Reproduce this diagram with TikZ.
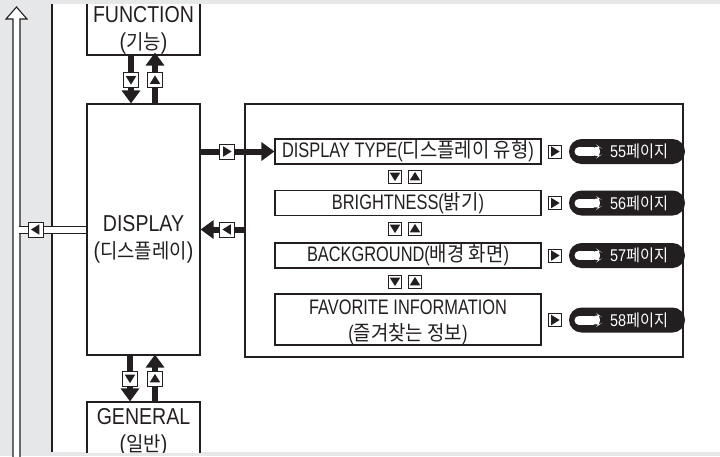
\documentclass[tikz,border=0pt]{standalone}
\usepackage{fontspec}
\setmainfont{Liberation Sans}[FakeStretch=0.85]
\newfontfamily\rfont{Liberation Sans}[FakeStretch=0.78]
\newfontfamily\krfont{Noto Sans CJK KR}[FakeStretch=0.92]
\usetikzlibrary{arrows.meta}
\definecolor{ink}{HTML}{231F20}
\definecolor{pagebg}{HTML}{E6E7E8}
\newcommand\hg[1]{{\krfont\fontsize{20.5}{24}\selectfont #1}}
\newcommand\hpg[1]{{\krfont\fontsize{16.5}{18}\selectfont #1}}
\begin{document}
\begin{tikzpicture}[x=1pt,y=-1pt,
  ln/.style={draw=ink,line width=1.1pt},
  box/.style={draw=ink,line width=1.1pt,fill=white,inner sep=0pt,text=ink},
  rbox/.style={box,minimum width=266pt,align=center,font=\rfont\fontsize{21}{26}\selectfont},
  rtxt/.style={text=ink,align=center,inner sep=0pt,font=\rfont\fontsize{21}{25.5}\selectfont},
  lbig/.style={text=ink,align=center,font=\fontsize{23}{27}\selectfont,inner sep=0pt},
  fat/.style={draw=ink,line width=6pt,-{Triangle[length=13pt,width=18pt]}},
  mk/.style={draw=ink,fill=white,line width=1pt,minimum size=15pt,inner sep=0pt},
  mks/.style={mk,minimum size=13pt},
  tdn/.style={path picture={\fill[ink,shift={(path picture bounding box.center)}] (-5.2,-3.8) -- (5.2,-3.8) -- (0,4.6) -- cycle;}},
  tup/.style={path picture={\fill[ink,shift={(path picture bounding box.center)}] (-5.2,3.8) -- (5.2,3.8) -- (0,-4.6) -- cycle;}},
  trt/.style={path picture={\fill[ink,shift={(path picture bounding box.center)}] (-3.8,-5.2) -- (-3.8,5.2) -- (4.6,0) -- cycle;}},
  tlt/.style={path picture={\fill[ink,shift={(path picture bounding box.center)}] (3.8,-5.2) -- (3.8,5.2) -- (-4.6,0) -- cycle;}},
  pill/.style={fill=ink,rounded corners=12.5pt,minimum width=116pt,minimum height=25pt,inner sep=0pt,
    path picture={\begin{scope}[shift={(path picture bounding box.center)}]
      \draw[white,line width=9pt,line cap=round] (-48,0) -- (-34,0);
      \fill[white] (-35,-10) -- (-21,0) -- (-35,10) -- cycle;
    \end{scope}}},
  ptxt/.style={text=white,font=\fontsize{17}{18}\selectfont,inner sep=0pt}
]
\useasboundingbox (0,0) rectangle (720,456);
\fill[pagebg] (0,0) rectangle (720,456);
\fill[white] (52,4) rectangle (720,452);
\begin{scope}
\clip (52,4) rectangle (720,452);
% left column boxes
\node[box,minimum width=113pt,minimum height=62pt] (function) at (143.5,24) {};
\node[lbig] (functxt) at (143.5,30.5) {FUNCTION\\(\hg{기능})};
\node[box,minimum width=113pt,minimum height=251pt] (display) at (143.5,229.5) {};
\node[lbig] (disptxt) at (143.5,239) {DISPLAY\\(\hg{디스플레이})};
\node[box,minimum width=113pt,minimum height=70pt] (general) at (143.5,437) {};
\node[lbig] (gentxt) at (143.5,432) {GENERAL\\(\hg{일반})};
% right panel
\node[draw=ink,line width=1.1pt,minimum width=438pt,minimum height=253pt,inner sep=0pt] (panel) at (464,230.5) {};
\node[rbox,minimum height=25pt] (dtype) at (408,151.5) {DISPLAY TYPE(\hg{디스플레이 유형})};
\node[rbox,minimum height=25pt] (bright) at (408,203) {BRIGHTNESS(\hg{밝기})};
\node[rbox,minimum height=25pt] (bground) at (408,255.5) {BACKGROUND(\hg{배경 화면})};
\node[rbox,minimum height=51pt] (fav) at (408,319.5) {};
\node[rtxt] (favtxt) at (408,322.5) {FAVORITE INFORMATION\\(\hg{즐겨찾는 정보})};
% arrow positions
\coordinate (fd) at (131,80);
\coordinate (fu) at (155,80);
\coordinate (gd) at (130,378.5);
\coordinate (gu) at (155,378.5);
\coordinate (rt) at (227,151.5);
\coordinate (bk) at (227,229.5);
% thick arrows
\draw[fat] (function.south -| fd) -- (display.north -| fd);
\draw[fat] (display.north -| fu) -- ([yshift=3pt]function.south -| fu);
\draw[fat] (display.south -| gd) -- (general.north -| gd);
\draw[fat] (general.north -| gu) -- ([yshift=1pt]display.south -| gu);
\draw[fat] (display.east |- rt) -- (dtype.west);
\draw[fat] (panel.west |- bk) -- (display.east |- bk);
% markers
\node[mk,tdn] (m1) at (fd) {};
\node[mk,tup] (m2) at (fu) {};
\node[mk,tdn] (m3) at (gd) {};
\node[mk,tup] (m4) at (gu) {};
\node[mk,trt] (m5) at (rt) {};
\node[mk,tlt] (m6) at (bk) {};
\node[mks,tdn] (d1) at (395,176.5) {};
\node[mks,tup] (u1) at (415,176.5) {};
\node[mks,tdn] (d2) at (395,228.5) {};
\node[mks,tup] (u2) at (415,228.5) {};
\node[mks,tdn] (d3) at (395,281.5) {};
\node[mks,tup] (u3) at (415,281.5) {};
% page references
\node[mks,trt] (r1) at (555,151.5) {};
\node[mks,trt] (r2) at (555,203) {};
\node[mks,trt] (r3) at (555,255.5) {};
\node[mks,trt] (r4) at (555,320) {};
\node[pill] (p55) at (627,151.5) {};
\node[pill] (p56) at (627,203) {};
\node[pill] (p57) at (627,255.5) {};
\node[pill] (p58) at (627,320) {};
\node[ptxt] (t55) at ([xshift=12pt]p55.center) {55\hpg{페이지}};
\node[ptxt] (t56) at ([xshift=12pt]p56.center) {56\hpg{페이지}};
\node[ptxt] (t57) at ([xshift=12pt]p57.center) {57\hpg{페이지}};
\node[ptxt] (t58) at ([xshift=12pt]p58.center) {58\hpg{페이지}};
\end{scope}
% left strip
\draw[ln] (52,4) -- (52,452);
\filldraw[ln,fill=white,line join=miter] (13,457) -- (13,19) -- (6,19) -- (16.5,7) -- (27,19) -- (20,19) -- (20,457);
\coordinate (lk) at (35.5,229.5);
\draw[draw=ink,line width=1pt,double=white,double distance=6pt] (19.4,229.5) -- (display.west |- lk);
\node[mk,tlt] (m7) at (lk) {};
\end{tikzpicture}
\end{document}
